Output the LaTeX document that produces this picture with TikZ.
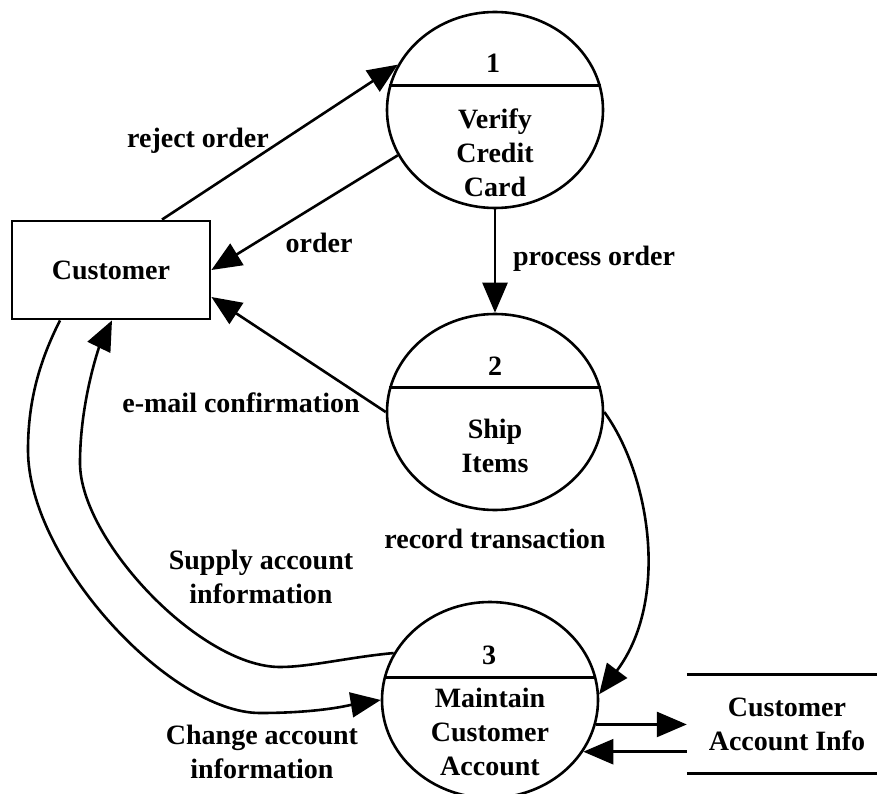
\documentclass[tikz,border=0pt]{standalone}
\usepackage{fontspec}
\setmainfont{Liberation Serif}
\usetikzlibrary{arrows.meta,shapes.geometric}
\tikzset{
  ln/.style={line width=2.6pt},
  flow/.style={ln, -{Triangle[length=30pt,width=25pt]}},
  proc/.style={ellipse, draw, ln, minimum width=216pt, minimum height=196pt, inner sep=0pt},
  ext/.style={rectangle, draw, line width=2.8pt, minimum width=198pt, minimum height=98pt, inner sep=0pt},
  store/.style={rectangle, minimum width=200pt, minimum height=99pt, inner sep=0pt, align=center},
  lbl/.style={anchor=base, inner sep=0pt, align=center},
}
\begin{document}
\begin{tikzpicture}[x=1pt, y=-1pt, font=\fontsize{28}{34}\selectfont\bfseries]
\useasboundingbox (0,0) rectangle (877,794);
% external entity and data store
\node[ext] (cust) at (111,270) {Customer};
\node[store] (store) at (787,724) {Customer\\Account Info};
\draw[ln] (store.north west) -- (store.north east);
\draw[ln] (store.south west) -- (store.south east);
% processes
\node[proc] (p1) at (495,110) {};
\node[proc] (p2) at (495,412) {};
\node[proc] (p3) at (490,700) {};
\draw[ln] (p1.167) -- (p1.13);
\draw[ln] (p2.167) -- (p2.13);
\draw[ln] (p3.168) -- (p3.12);
\node[lbl] (p1n) at (493,73) {1};
\node[lbl] (p1t) at (495,197) {Verify\\Credit\\Card};
\node[lbl] (p2n) at (495,375) {2};
\node[lbl] (p2t) at (495,472) {Ship\\Items};
\node[lbl] (p3n) at (489,664) {3};
\node[lbl] (p3t) at (490,775) {Maintain\\Customer\\Account};
% flows
\draw[flow] ([xshift=51pt]cust.north) -- (p1.155);
\draw[flow] (p1.205) -- (cust.east);
\draw[flow] (p1.south) -- (p2.north);
\draw[flow] (p2.west) -- ([yshift=-27pt]cust.east);
\draw[flow] (p2.east) .. controls (650,475) and (670,600) .. (p3.3);
\draw[flow] (p3.154) .. controls (350,657) and (310,667) .. (280,667)
   .. controls (200,667) and (80,540) .. (80,463)
   .. controls (80,400) and (100,345) .. ([xshift=1pt]cust.south);
\draw[flow] ([xshift=-51pt]cust.south) .. controls (40,360) and (28,400) .. (28,450)
   .. controls (28,560) and (170,713) .. (260,713)
   .. controls (320,713) and (350,705) .. (p3.west);
\draw[flow] (p3.-13) -- (p3.-13 -| store.west);
\draw[flow] (store.west |- p3.-29) -- (p3.-29);
% flow labels
\node[lbl] (lreject) at (198,148) {reject order};
\node[lbl] (lorder) at (319,252) {order};
\node[lbl] (lprocess) at (594,265) {process order};
\node[lbl] (lemail) at (241,412) {e-mail confirmation};
\node[lbl] (lrecord) at (495,548) {record transaction};
\node[lbl] (lsupply) at (261,603) {Supply account\\information};
\node[lbl] (lchange) at (262,778) {Change account\\information};
\end{tikzpicture}
\end{document}
